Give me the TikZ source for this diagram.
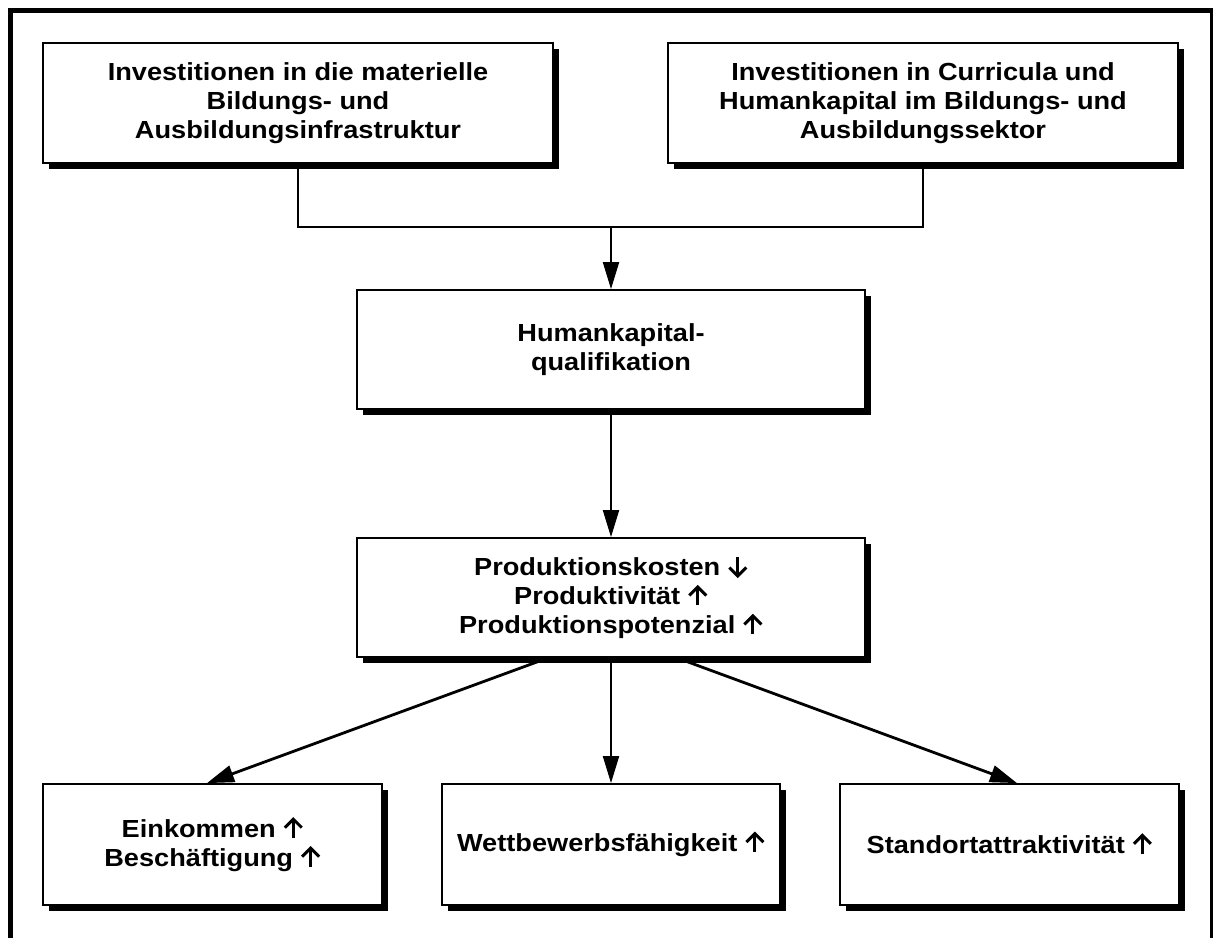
\documentclass[tikz,border=0pt]{standalone}
\usepackage{fontspec}
\setmainfont[FakeStretch=1.1]{Liberation Sans}
\usetikzlibrary{arrows.meta,shadows}
\newcommand{\myup}{\tikz[baseline=0pt,x=1pt,y=1pt,line width=3pt,line join=miter,line cap=butt]{\draw (0,-0.5)--(0,18); \draw (-8.5,9.5)--(0,18)--(8.5,9.5);}}
\newcommand{\mydown}{\tikz[baseline=0pt,x=1pt,y=1pt,line width=3pt,line join=miter,line cap=butt]{\draw (0,18.5)--(0,0); \draw (-8.5,8.5)--(0,0)--(8.5,8.5);}}
\begin{document}
\begin{tikzpicture}[x=1pt,y=-1pt,
  box/.style={draw, line width=1.8pt, fill=white, align=center,
    font=\bfseries\fontsize{24.7}{29}\selectfont, inner sep=0pt,
    drop shadow={shadow xshift=5.5pt, shadow yshift=-5.5pt, fill=black, opacity=1}},
  link/.style={line width=2pt},
  arr/.style={line width=2pt, -{Triangle[length=27pt,width=16pt]}},
  diag/.style={line width=2.8pt, -{Triangle[length=27pt,width=17pt]}},
  frame/.style={line width=5pt}
  ]
\useasboundingbox (0,0) rectangle (1215,938);
% frame
\draw[frame] (10,938) -- (10,10) -- (1211,10);
\draw[line width=3pt] (1211,8) -- (1211,938);
% boxes
\node[box, minimum width=510pt, minimum height=120pt] (b1) at (298,103)
  {Investitionen in die materielle\\Bildungs- und\\Ausbildungsinfrastruktur};
\node[box, minimum width=510pt, minimum height=120pt] (b2) at (923,103)
  {Investitionen in Curricula und\\Humankapital im Bildungs- und\\Ausbildungssektor};
\node[box, minimum width=508pt, minimum height=119pt] (b3) at (611,349.5)
  {Humankapital-\\qualifikation};
\node[box, minimum width=508pt, minimum height=119pt] (b4) at (611,597.5)
  {Produktionskosten \mydown\\Produktivität \myup\\Produktionspotenzial \myup};
\node[box, minimum width=339pt, minimum height=121pt] (b5) at (212.5,844.5)
  {Einkommen \myup\\Beschäftigung \myup};
\node[box, minimum width=338pt, minimum height=121pt] (b6) at (611,844.5)
  {Wettbewerbsfähigkeit \myup};
\node[box, minimum width=339pt, minimum height=121pt] (b7) at (1009.5,844.5)
  {Standortattraktivität \myup};
% connectors
\coordinate (jc) at (611,227);
\draw[link] (b1.south) |- (jc) -| (b2.south);
\draw[arr] (jc) -- (b3.north);
\draw[arr] (b3.south) -- (b4.north);
\draw[diag] ([xshift=-63pt]b4.south) -- ([xshift=-5.5pt]b5.north);
\draw[arr] (b4.south) -- (b6.north);
\draw[diag] ([xshift=66pt]b4.south) -- ([xshift=7.5pt]b7.north);
\end{tikzpicture}
\end{document}
